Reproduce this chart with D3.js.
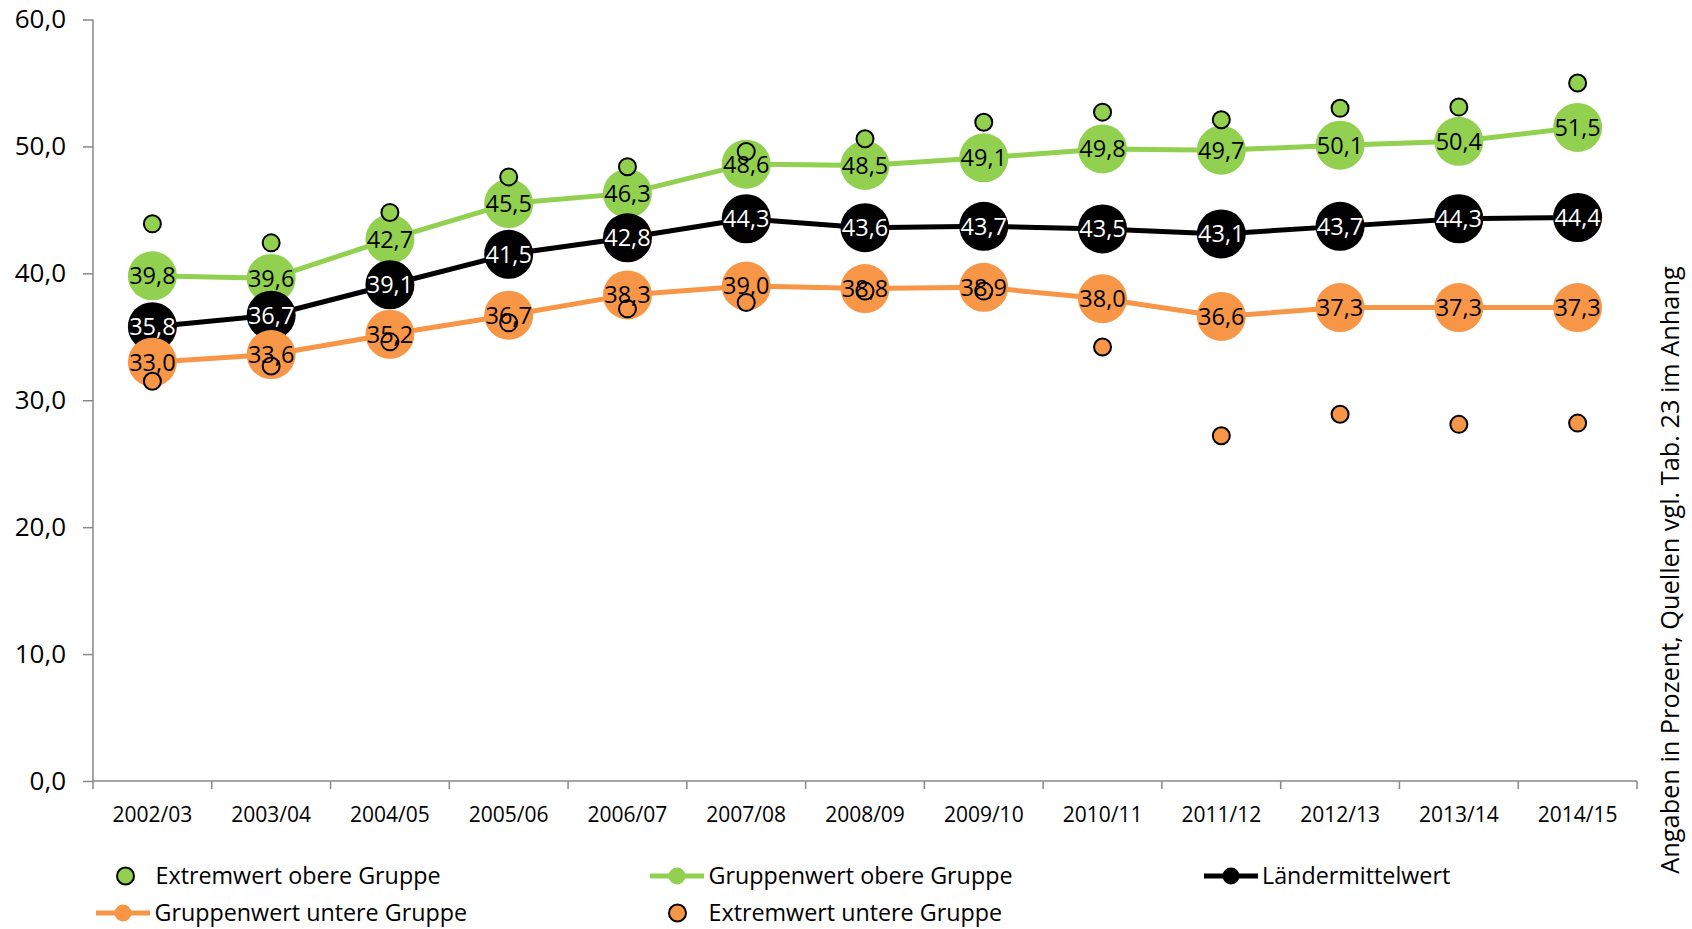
<!DOCTYPE html>
<html>
<head>
<meta charset="utf-8">
<script src="https://cdn.jsdelivr.net/npm/d3@7"></script>
<style>
  html, body { margin: 0; padding: 0; background: #fff; }
  svg { display: block; font-family: "Open Sans", sans-serif; }
</style>
</head>
<body>
<svg id="chart" width="1692" height="929"></svg>
<script>
// School years on the x axis
const years = ["2002/03","2003/04","2004/05","2005/06","2006/07","2007/08","2008/09",
               "2009/10","2010/11","2011/12","2012/13","2013/14","2014/15"];

// Series values (percent)
const extremOben   = [43.9, 42.4, 44.8, 47.6, 48.4, 49.6, 50.6, 51.9, 52.7, 52.1, 53.0, 53.1, 55.0];
const gruppeOben   = [39.8, 39.6, 42.7, 45.5, 46.3, 48.6, 48.5, 49.1, 49.8, 49.7, 50.1, 50.4, 51.5];
const laenderMittel= [35.8, 36.7, 39.1, 41.5, 42.8, 44.3, 43.6, 43.7, 43.5, 43.1, 43.7, 44.3, 44.4];
const gruppeUnten  = [33.0, 33.6, 35.2, 36.7, 38.3, 39.0, 38.8, 38.9, 38.0, 36.6, 37.3, 37.3, 37.3];
const extremUnten  = [31.5, 32.7, 34.6, 36.1, 37.2, 37.7, 38.6, 38.6, 34.2, 27.2, 28.9, 28.1, 28.2];

// Y axis ticks
const yTicks = [0, 10, 20, 30, 40, 50, 60];

const seriesNames = {
  extremOben: "Extremwert obere Gruppe",
  gruppeOben: "Gruppenwert obere Gruppe",
  mittel: "Ländermittelwert",
  gruppeUnten: "Gruppenwert untere Gruppe",
  extremUnten: "Extremwert untere Gruppe"
};
const sideNote = "Angaben in Prozent, Quellen vgl. Tab. 23 im Anhang";

const GREEN = "#92D050", ORANGE = "#F79646", BLACK = "#000000", AXIS = "#898989";
const fmt = v => v.toFixed(1).replace(".", ",");

const svg = d3.select("#chart");
const plotLeft = 93, plotRight = 1637, plotTop = 19.5, plotBottom = 781;

const x = d3.scaleBand().domain(years).range([plotLeft, plotRight]).padding(0);
const cx = d => x(d) + x.bandwidth() / 2;
const y = d3.scaleLinear().domain([0, 60]).range([plotBottom, plotTop]);

// Y axis
const yAxis = svg.append("g").attr("transform", `translate(${plotLeft},0)`)
  .call(d3.axisLeft(y).tickValues(yTicks).tickSize(10).tickPadding(17).tickFormat(fmt));
yAxis.select(".domain").attr("stroke", AXIS).attr("stroke-width", 1.5).attr("d", `M0,${plotTop}V${plotBottom}`);
yAxis.selectAll(".tick line").attr("stroke", AXIS).attr("stroke-width", 1.5);
yAxis.selectAll(".tick text").attr("fill", "#000").style("font-size", "26px")
  .attr("font-family", "'Open Sans', sans-serif");

// X axis: tick marks on category boundaries, labels centered in bands
const xAxisG = svg.append("g").attr("transform", `translate(0,${plotBottom})`);
xAxisG.append("line").attr("x1", plotLeft).attr("x2", plotRight).attr("y1", 0).attr("y2", 0)
  .attr("stroke", AXIS).attr("stroke-width", 1.5);
const bounds = years.map(d => x(d)).concat([x(years[years.length - 1]) + x.bandwidth()]);
xAxisG.selectAll("line.b").data(bounds).enter().append("line").attr("class", "b")
  .attr("x1", d => d).attr("x2", d => d).attr("y1", 0).attr("y2", 8)
  .attr("stroke", AXIS).attr("stroke-width", 1.5);
xAxisG.selectAll("text").data(years).enter().append("text")
  .attr("x", d => cx(d)).attr("y", 41).attr("text-anchor", "middle")
  .style("font-size", "21px").attr("fill", "#000").text(d => d);

// Connected series
function drawLineSeries(values, color) {
  const pts = years.map((d, i) => [cx(d), y(values[i])]);
  const g = svg.append("g");
  g.append("path").attr("d", d3.line()(pts)).attr("fill", "none")
    .attr("stroke", color).attr("stroke-width", 5).attr("stroke-linejoin", "round");
  g.selectAll("circle").data(pts).enter().append("circle")
    .attr("cx", d => d[0]).attr("cy", d => d[1]).attr("r", 24.5).attr("fill", color);
}
drawLineSeries(gruppeOben, GREEN);
drawLineSeries(laenderMittel, BLACK);
drawLineSeries(gruppeUnten, ORANGE);

// Extreme values as small outlined markers
function drawExtremes(values, color) {
  svg.append("g").selectAll("circle").data(values).enter().append("circle")
    .attr("cx", (v, i) => cx(years[i])).attr("cy", v => y(v)).attr("r", 8.5)
    .attr("fill", color).attr("stroke", "#000").attr("stroke-width", 2);
}
drawExtremes(extremOben, GREEN);
drawExtremes(extremUnten, ORANGE);

// Data labels centered on the large markers
function drawLabels(values, color) {
  svg.append("g").selectAll("text").data(values).enter().append("text")
    .attr("x", (v, i) => cx(years[i])).attr("y", v => y(v)).attr("dy", "0.36em")
    .attr("text-anchor", "middle").style("font-size", "23.5px").attr("fill", color)
    .text(v => fmt(v));
}
drawLabels(gruppeOben, "#000");
drawLabels(laenderMittel, "#fff");
drawLabels(gruppeUnten, "#000");

// Side note
svg.append("text").attr("transform", "translate(1670,570) rotate(-90)")
  .attr("text-anchor", "middle").attr("dy", "0.35em").style("font-size", "25.3px")
  .attr("fill", "#000").text(sideNote);

// Legend
const legend = svg.append("g").style("font-size", "23.3px");
const legendItems = [
  { name: seriesNames.extremOben, color: GREEN, line: false, mx: 125.5, tx: 155.5, yy: 876 },
  { name: seriesNames.gruppeOben, color: GREEN, line: true,  mx: 677,   tx: 708.5, yy: 876 },
  { name: seriesNames.mittel,     color: BLACK, line: true,  mx: 1231,  tx: 1262,  yy: 876 },
  { name: seriesNames.gruppeUnten,color: ORANGE,line: true,  mx: 123,   tx: 154.5, yy: 913 },
  { name: seriesNames.extremUnten,color: ORANGE,line: false, mx: 677.5, tx: 708.5, yy: 913 }
];
legendItems.forEach(it => {
  const g = legend.append("g");
  if (it.line) {
    g.append("line").attr("x1", it.mx - 27).attr("x2", it.mx + 27)
      .attr("y1", it.yy).attr("y2", it.yy).attr("stroke", it.color).attr("stroke-width", 5);
    g.append("circle").attr("cx", it.mx).attr("cy", it.yy).attr("r", 8.5).attr("fill", it.color);
  } else {
    g.append("circle").attr("cx", it.mx).attr("cy", it.yy).attr("r", 8.5)
      .attr("fill", it.color).attr("stroke", "#000").attr("stroke-width", 2);
  }
  g.append("text").attr("x", it.tx).attr("y", it.yy).attr("dy", "0.35em")
    .attr("fill", "#000").text(it.name);
});
</script>
</body>
</html>
